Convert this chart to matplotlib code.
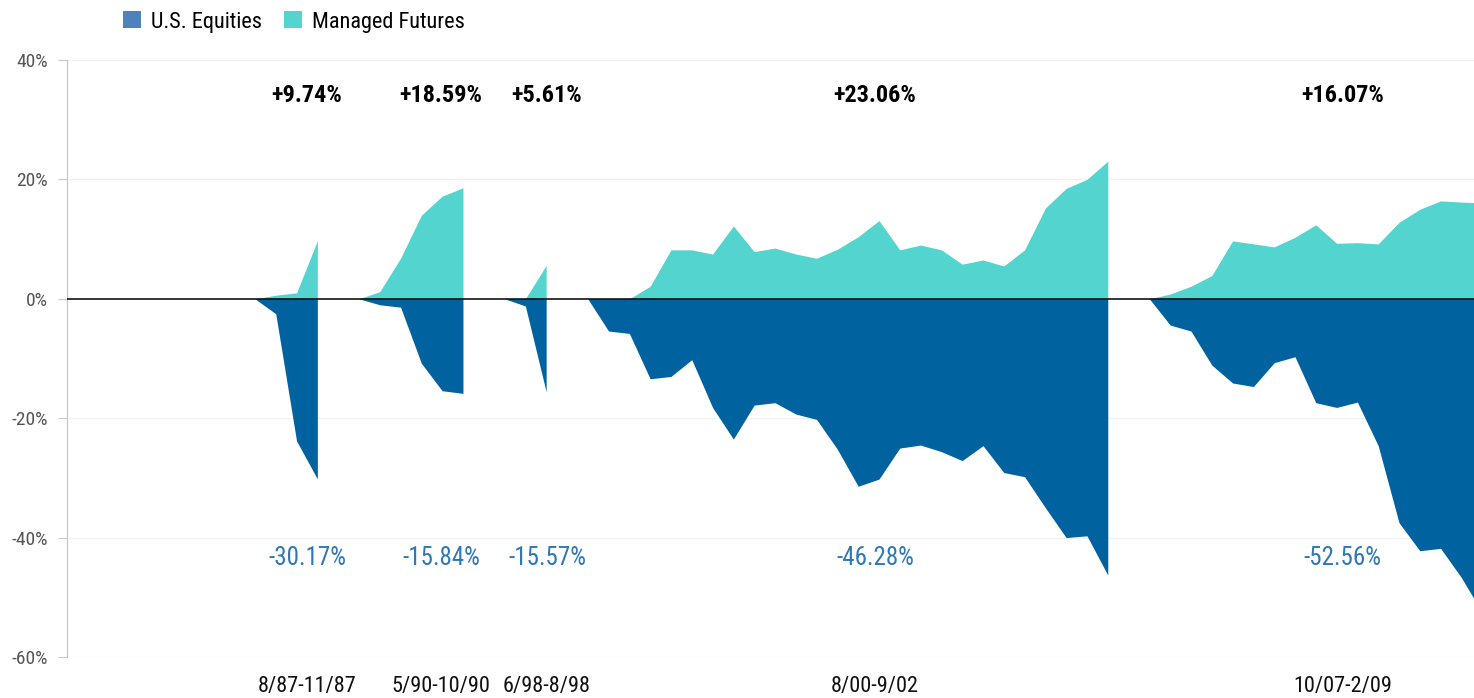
import matplotlib
matplotlib.use("Agg")
import matplotlib.pyplot as plt
from matplotlib.patches import Patch
from matplotlib import font_manager as fm
import numpy as np
import os

# ---------------- data ----------------
periods = ["8/87-11/87", "5/90-10/90", "6/98-8/98", "8/00-9/02", "10/07-2/09"]

equities_8787 = [0, -2.5, -23.8, -30.17]
futures_8787 = [0, 0.6, 1.0, 9.74]

equities_9090 = [0, -1.0, -1.4, -10.8, -15.4, -15.84]
futures_9090 = [0, 1.2, 6.8, 14.0, 17.2, 18.59]

equities_9898 = [0, -1.2, -15.57]
futures_9898 = [0, 0.0, 5.61]

equities_0002 = [0, -5.4, -5.8, -13.4, -13.0, -10.2, -18.2, -23.5, -17.8, -17.4,
                 -19.3, -20.2, -25.2, -31.4, -30.2, -25.0, -24.5, -25.6, -27.1,
                 -24.6, -29.1, -29.8, -35.0, -40.0, -39.7, -46.28]
futures_0002 = [0, 0, 0, 2.1, 8.2, 8.2, 7.5, 12.2, 7.9, 8.5, 7.5, 6.8, 8.3, 10.4,
                13.1, 8.2, 9.0, 8.2, 5.8, 6.5, 5.5, 8.2, 15.2, 18.5, 20.0, 23.06]

equities_0709 = [0, -4.4, -5.4, -11.1, -14.1, -14.7, -10.7, -9.7, -17.4, -18.2,
                 -17.3, -24.6, -37.5, -42.2, -41.8, -46.7, -52.56]
futures_0709 = [0, 0.8, 2.1, 3.9, 9.7, 9.2, 8.7, 10.3, 12.4, 9.3, 9.4, 9.2, 12.8,
                15.0, 16.4, 16.2, 16.07]

futures_labels = ["+9.74%", "+18.59%", "+5.61%", "+23.06%", "+16.07%"]
equities_labels = ["-30.17%", "-15.84%", "-15.57%", "-46.28%", "-52.56%"]
label_pos = [11.5, 17.94, 23.04, 38.81, 61.3]

y_ticks = [40, 20, 0, -20, -40, -60]
y_tick_labels = ["40%", "20%", "0%", "-20%", "-40%", "-60%"]

# ---------------- font ----------------
files = {os.path.basename(f.fname): f.fname for f in fm.fontManager.ttflist}
fam = "DejaVu Sans"
for cand in ["RobotoCondensed-Regular.ttf", "RobotoCondensed[wght].ttf",
             "ArchivoNarrow[wght].ttf", "BarlowSemiCondensed-Regular.ttf",
             "DejaVuSansCondensed.ttf"]:
    if cand in files:
        fam = fm.FontProperties(fname=files[cand]).get_name()
        break
plt.rcParams["font.family"] = [fam, "DejaVu Sans"]

EQ_COLOR = "#0063A0"
MF_COLOR = "#53D4CF"
EQ_LEGEND = "#4F81BD"
BLUE_TXT = "#2E78B7"

W, H = 1474, 698
fig = plt.figure(figsize=(W / 100, H / 100), dpi=100)
ax_left, ax_right = 66.7, 1492.6
ax_top, ax_bottom = 60, 657
ax = fig.add_axes([ax_left / W, (H - ax_bottom) / H,
                   (ax_right - ax_left) / W, (ax_bottom - ax_top) / H])

episodes = [
    (equities_8787, futures_8787),
    (equities_9090, futures_9090),
    (equities_9898, futures_9898),
    (equities_0002, futures_0002),
    (equities_0709, futures_0709),
]

start = 9
for eq, mf in episodes:
    x = np.arange(start, start + len(eq))
    ax.fill_between(x, 0, mf, color=MF_COLOR, linewidth=0, zorder=2)
    ax.fill_between(x, 0, eq, color=EQ_COLOR, linewidth=0, zorder=2)
    start += len(eq) + 1

ax.axhline(0, color="black", linewidth=1.1, zorder=3)

ax.set_xlim(-0.05, 68.5)
ax.set_ylim(-60, 40)
ax.set_yticks(y_ticks)
ax.set_yticklabels(y_tick_labels)
ax.set_xticks(label_pos)
ax.set_xticklabels(periods)

for yv in y_ticks:
    if yv != 0:
        ax.axhline(yv, color="#f1f1f1", linewidth=1.0, zorder=0)

for s in ["top", "right", "bottom"]:
    ax.spines[s].set_visible(False)
ax.spines["left"].set_color("#c8c8c8")
ax.spines["left"].set_linewidth(0.9)

ax.tick_params(axis="y", length=6.5, width=0.8, color="#c8c8c8", pad=7,
               labelsize=14, labelcolor="#555555")
ax.tick_params(axis="x", length=0, pad=14, labelsize=16, labelcolor="#111111")

for xp, t in zip(label_pos, futures_labels):
    ax.text(xp, 34.0, t, ha="center", va="center", fontsize=17.5,
            fontweight="bold", color="#000000")
for xp, t in zip(label_pos, equities_labels):
    ax.text(xp, -43.4, t, ha="center", va="center", fontsize=18,
            color=BLUE_TXT)

handles = [Patch(facecolor=EQ_LEGEND, edgecolor="none"),
           Patch(facecolor=MF_COLOR, edgecolor="none")]
fig.legend(handles, ["U.S. Equities", "Managed Futures"],
           loc="center left", bbox_to_anchor=(123 / W, 1 - 22 / H),
           ncol=2, frameon=False, fontsize=16, handlelength=0.8,
           handleheight=0.8, handletextpad=0.45, columnspacing=1.0,
           borderaxespad=0, borderpad=0)

fig.savefig("out.png", dpi=100)
